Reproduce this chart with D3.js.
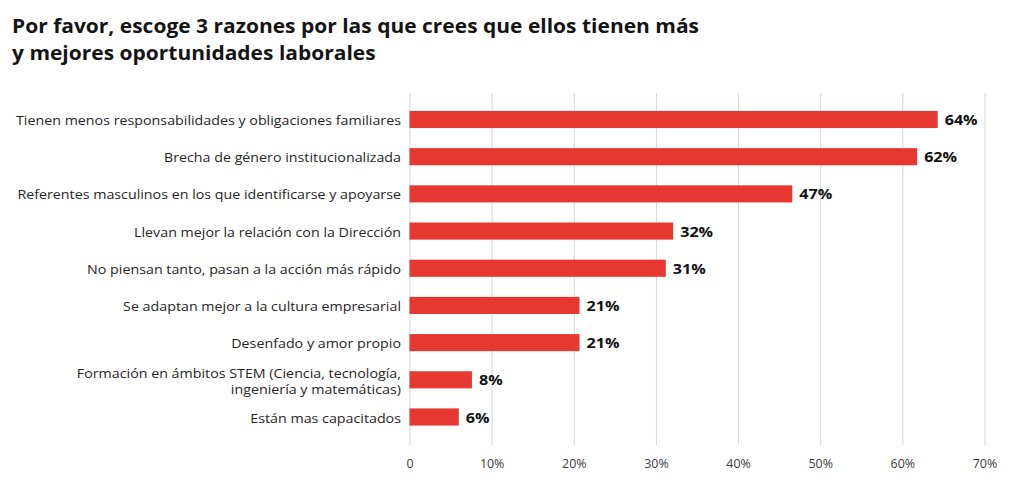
<!DOCTYPE html>
<html>
<head>
<meta charset="utf-8">
<script src="https://cdn.jsdelivr.net/npm/d3@7"></script>
<style>
  html, body { margin: 0; padding: 0; background: #ffffff; }
  svg { display: block; }
</style>
</head>
<body>
<svg id="chart" width="1024" height="502"></svg>
<script>
const titleLines = [
  "Por favor, escoge 3 razones por las que crees que ellos tienen más",
  "y mejores oportunidades laborales"
];
const categories = [
  "Tienen menos responsabilidades y obligaciones familiares",
  "Brecha de género institucionalizada",
  "Referentes masculinos en los que identificarse y apoyarse",
  "Llevan mejor la relación con la Dirección",
  "No piensan tanto, pasan a la acción más rápido",
  "Se adaptan mejor a la cultura empresarial",
  "Desenfado y amor propio",
  "Formación en ámbitos STEM (Ciencia, tecnología,\ningeniería y matemáticas)",
  "Están mas capacitados"
];
const values = [64.3, 61.8, 46.6, 32.1, 31.2, 20.7, 20.7, 7.6, 6.0];
const valueLabels = ["64%", "62%", "47%", "32%", "31%", "21%", "21%", "8%", "6%"];
const tickValues = [0, 10, 20, 30, 40, 50, 60, 70];
const tickLabels = ["0", "10%", "20%", "30%", "40%", "50%", "60%", "70%"];

const FONT = "'Open Sans', 'Noto Sans', 'DejaVu Sans', sans-serif";
const svg = d3.select("#chart");

const x = d3.scaleLinear().domain([0, 70]).range([409.5, 984.5]);
const y = d3.scaleBand().domain(categories).range([100.9, 435.6])
  .paddingInner(0.54).paddingOuter(0.27);

const gridTop = 93, gridBottom = 445;

// grid + tick labels
const axis = d3.axisBottom(x)
  .tickValues(tickValues)
  .tickFormat((d, i) => tickLabels[i])
  .tickSize(-(gridBottom - gridTop))
  .tickPadding(13.5);
const gAxis = svg.append("g")
  .attr("transform", `translate(0,${gridBottom})`)
  .call(axis);
gAxis.select(".domain").remove();
gAxis.selectAll(".tick line").attr("stroke", "#d6d6d6").attr("stroke-width", 1);
gAxis.selectAll(".tick text")
  .attr("fill", "#3a3a3a")
  .style("font-family", FONT)
  .style("font-size", "13.5px");

// bars
svg.append("g").selectAll("rect")
  .data(categories)
  .join("rect")
  .attr("x", x(0))
  .attr("y", d => y(d))
  .attr("width", (d, i) => x(values[i]) - x(0))
  .attr("height", y.bandwidth())
  .attr("fill", "#e63731");

// value labels
const vLabels = svg.append("g").selectAll("text")
  .data(categories)
  .join("text")
  .attr("x", (d, i) => x(values[i]) + 7)
  .attr("y", d => y(d) + y.bandwidth() / 2 + 5.5)
  .attr("fill", "#111")
  .style("font-family", FONT)
  .style("font-size", "14.5px")
  .style("font-weight", "700")
  .text((d, i) => valueLabels[i]);

// category labels
const cLabels = svg.append("g").selectAll("text")
  .data(categories)
  .join("text")
  .attr("text-anchor", "end")
  .attr("fill", "#262626")
  .style("font-family", FONT)
  .style("font-size", "13.5px")
  .each(function(d) {
    const lines = d.split("\n");
    const cy = y(d) + y.bandwidth() / 2;
    const t = d3.select(this);
    lines.forEach((ln, k) => {
      const base = lines.length === 1 ? cy + 5.5 : cy - 1.5 + k * 16;
      t.append("tspan").attr("x", 401).attr("y", base).text(ln);
    });
  });

// title
const title = svg.append("g");
titleLines.forEach((ln, k) => {
  title.append("text")
    .attr("x", 12)
    .attr("y", 32.5 + k * 27.5)
    .attr("fill", "#141414")
    .style("font-family", FONT)
    .style("font-size", "19.5px")
    .style("font-weight", "700")
    .text(ln);
});

// width fitting to mimic the wider original typeface
function fit(selection, factor) {
  selection.each(function() {
    const w = this.getComputedTextLength();
    d3.select(this).attr("textLength", w * factor).attr("lengthAdjust", "spacingAndGlyphs");
  });
}
const tNodes = title.selectAll("text");
fit(tNodes, 687 / tNodes.nodes()[0].getComputedTextLength());
const spans = cLabels.selectAll("tspan");
fit(spans, 385 / spans.nodes()[0].getComputedTextLength());
fit(vLabels, 33 / vLabels.nodes()[0].getComputedTextLength());
const tickNodes = gAxis.selectAll(".tick text");
fit(tickNodes, 24.5 / tickNodes.nodes()[1].getComputedTextLength());
</script>
</body>
</html>
